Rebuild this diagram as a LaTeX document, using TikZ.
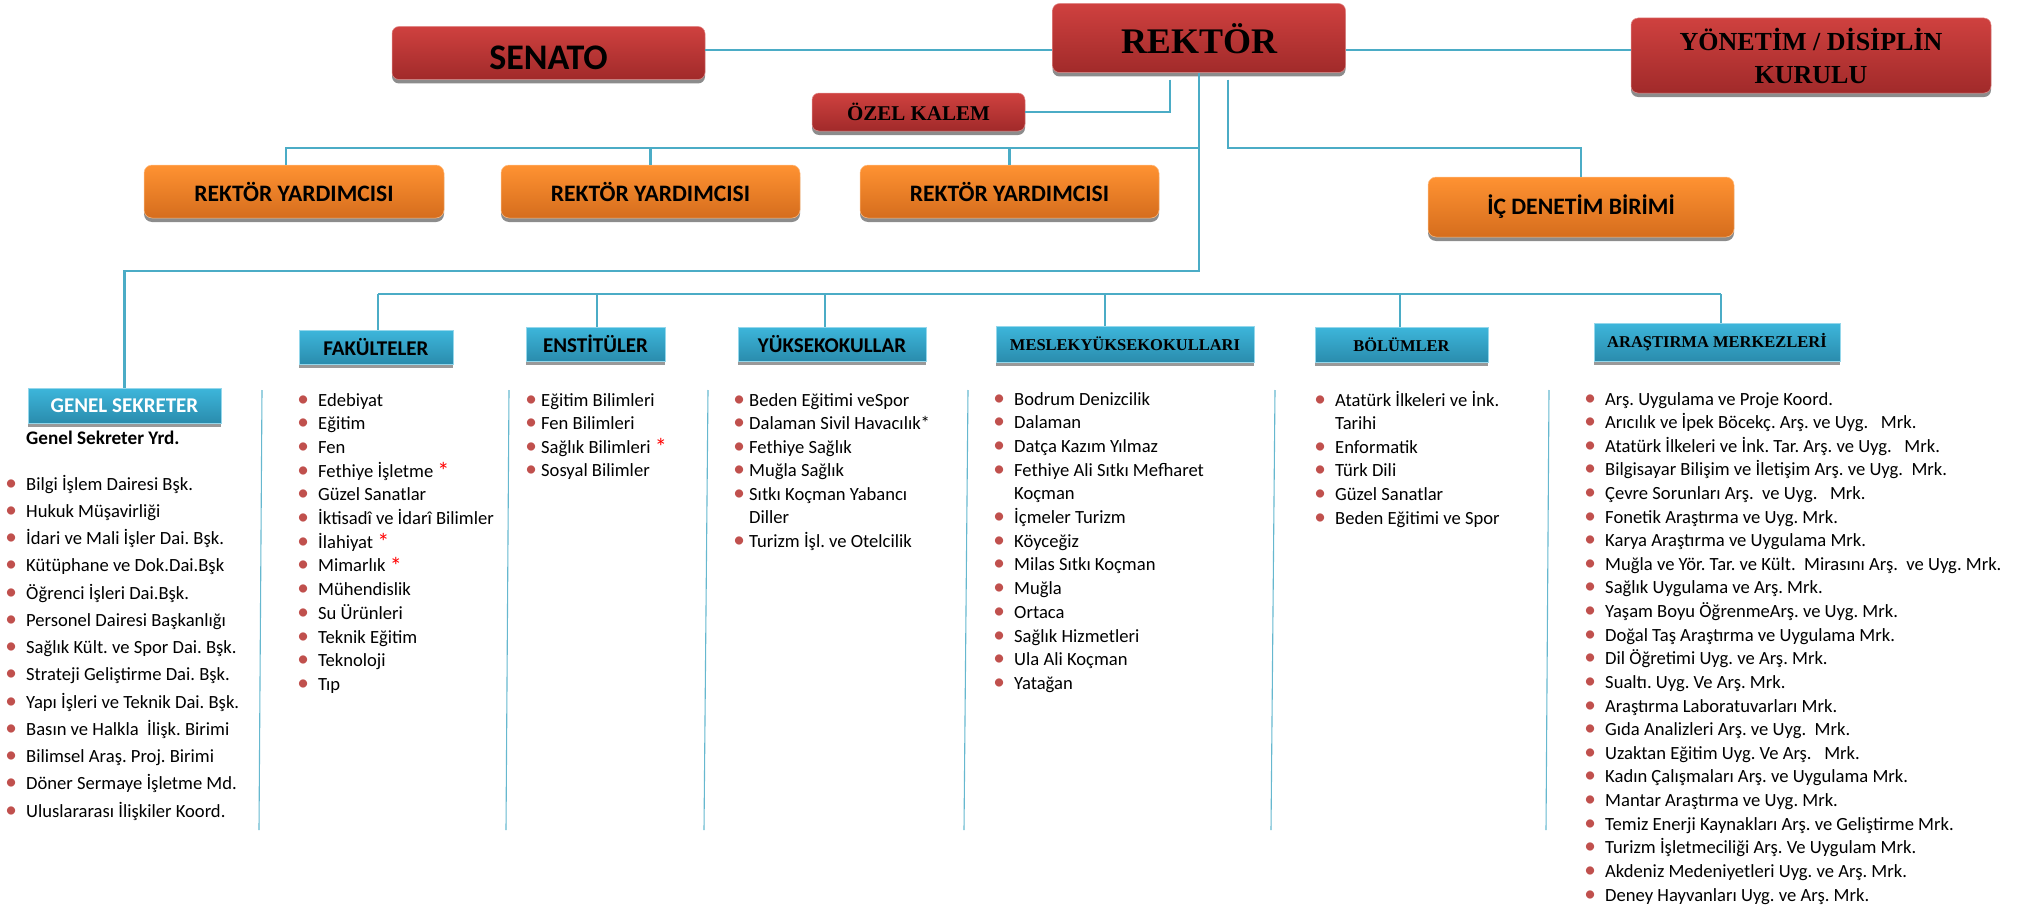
\documentclass[tikz,border=0pt]{standalone}
\usepackage{fontspec}
\setmainfont{Carlito}
\newfontfamily\timesfont{Liberation Serif}
\usetikzlibrary{shadows}
\frenchspacing

\definecolor{redtop}{HTML}{CF413F}
\definecolor{redbot}{HTML}{A12A2A}
\definecolor{orangetop}{HTML}{FF9232}
\definecolor{orangebot}{HTML}{D56D1D}
\definecolor{bluetop}{HTML}{3DB6DB}
\definecolor{bluebot}{HTML}{2A8CAD}
\definecolor{linkblue}{HTML}{4BACC6}
\definecolor{bulred}{HTML}{C0504D}

\newlength\bulsep
\setlength\bulsep{15pt}
\newcommand\bul{\kern-\bulsep\makebox[0pt]{\textcolor{bulred}{\scalebox{1.25}{\textbullet}}}\kern\bulsep}
\newcommand\rast{\ \textcolor{red}{\raisebox{-2.5pt}{\scalebox{1.3}{*}}}}
\newcommand\listfont{\fontsize{18.6}{22}\selectfont}

\tikzset{
  redbox/.style={rounded corners=7pt, top color=redtop, bottom color=redbot,
    draw=redtop!60!white, line width=0.5pt, inner sep=0pt, align=center,
    drop shadow={shadow xshift=0pt, shadow yshift=-4pt, fill=black!45, opacity=1}},
  orangebox/.style={rounded corners=8pt, top color=orangetop, bottom color=orangebot,
    draw=orangetop!60!white, line width=0.5pt, inner sep=0pt,
    font=\fontsize{23.6}{27}\selectfont\bfseries,
    drop shadow={shadow xshift=0pt, shadow yshift=-4pt, fill=black!45, opacity=1}},
  bluebox/.style={top color=bluetop, bottom color=bluebot, draw=bluetop!55!white,
    line width=0.8pt, inner sep=0pt, font=\fontsize{21}{25}\selectfont\bfseries,
    drop shadow={shadow xshift=0pt, shadow yshift=-4pt, fill=black!40, opacity=1}},
  timeshead/.style={font=\fontsize{16.5}{20}\selectfont\timesfont\bfseries},
  link/.style={draw=linkblue, line width=2.6pt},
  sepline/.style={draw=linkblue!85, line width=1.1pt},
  item/.style={anchor=base west, inner sep=0pt, font=\listfont},
  near/.style={execute at begin node={\setlength\bulsep{10pt}}}
}

\begin{document}
\begin{tikzpicture}[x=1pt,y=-1pt]
\useasboundingbox (0,0) rectangle (2035,907);

% top row
\node[redbox, minimum width=313pt, minimum height=53pt, text height=33pt, text depth=0pt,
  font=\fontsize{36}{40}\selectfont\bfseries] (senato) at (548.5,53) {SENATO};
\node[redbox, minimum width=293pt, minimum height=69pt, text height=32pt, text depth=0pt,
  font=\fontsize{36}{40}\selectfont\timesfont\bfseries] (rektor) at (1199,38) {REKTÖR};
\node[redbox, minimum width=360pt, minimum height=75pt,
  font=\fontsize{26}{33}\selectfont\timesfont\bfseries] (yonetim) at (1811,55.5) {YÖNETİM / DİSİPLİN\\KURULU};
\node[redbox, minimum width=213pt, minimum height=38pt,
  font=\fontsize{21}{24}\selectfont\timesfont\bfseries] (ozel) at (918.5,112) {ÖZEL KALEM};

\node[orangebox, minimum width=300pt, minimum height=53pt] (ry1) at (294,191.5) {REKTÖR YARDIMCISI};
\node[orangebox, minimum width=299pt, minimum height=53pt] (ry2) at (650.5,191.5) {REKTÖR YARDIMCISI};
\node[orangebox, minimum width=299pt, minimum height=53pt] (ry3) at (1009.5,191.5) {REKTÖR YARDIMCISI};
\node[orangebox, minimum width=306pt, minimum height=60pt] (ic) at (1581,207) {İÇ DENETİM BİRİMİ};

% bus heights
\coordinate (topline) at (0,50);
\coordinate (rybus) at (0,148);
\coordinate (gsbus) at (0,271);
\coordinate (unitbus) at (0,294);
\coordinate (ry1-top) at ([xshift=-8pt]ry1.north);

\draw[link] (senato.east |- topline) -- (rektor.west |- topline);
\draw[link] (rektor.east |- topline) -- (yonetim.west |- topline);
\draw[link] ([xshift=-29pt,yshift=-7pt]rektor.south) |- (ozel.east);
\draw[link] (ry1-top) |- (rektor.south |- rybus);
\draw[link] (ry2.north) -- (ry2.north |- rybus);
\draw[link] (ry3.north) -- (ry3.north |- rybus);
\draw[link] ([xshift=29pt,yshift=-7pt]rektor.south) |- (ic.north |- rybus) -- (ic.north);

% units
\node[bluebox, text=white, minimum width=193pt, minimum height=35pt] (gensek) at (124.5,405.5) {GENEL SEKRETER};
\node[bluebox, minimum width=154pt, minimum height=34pt] (fak) at (376,347) {FAKÜLTELER};
\node[bluebox, minimum width=139pt, minimum height=34pt] (ens) at (595.5,344) {ENSTİTÜLER};
\node[bluebox, minimum width=188pt, minimum height=34pt] (yuk) at (832,344) {YÜKSEKOKULLAR};
\node[bluebox, timeshead, minimum width=258pt, minimum height=36pt] (myo) at (1125,344) {MESLEKYÜKSEKOKULLARI};
\node[bluebox, timeshead, minimum width=173pt, minimum height=35pt] (bol) at (1401.5,344.5) {BÖLÜMLER};
\node[bluebox, timeshead, minimum width=246pt, minimum height=38pt] (ars) at (1717,342) {ARAŞTIRMA MERKEZLERİ};

\draw[link] (rektor.south) |- (gensek.north |- gsbus) -- (gensek.north);
\foreach \n/\s in {fak/2, ens/1.5, yuk/-7, myo/-20, bol/-1.5, ars/4}{
  \coordinate (\n-top) at ([xshift=\s pt]\n.north);
  \draw[link] (\n-top) -- (\n-top |- unitbus);
}
\draw[link] (fak-top |- unitbus) -- (ars-top |- unitbus);

% column rules
\foreach \a/\b in {262/259, 509/506, 708/704, 968/964, 1275/1271, 1549/1546}
  \draw[sepline] (\a,390) -- (\b,830);

% Genel Sekreter
\node[item, font=\fontsize{19.2}{22}\selectfont\bfseries] (gsyrd) at (26,444) {Genel Sekreter Yrd.};
\foreach \t [count=\i from 0] in {Bilgi İşlem Dairesi Bşk., Hukuk Müşavirliği,
  İdari ve Mali İşler Dai. Bşk., Kütüphane ve Dok.Dai.Bşk, Öğrenci İşleri Dai.Bşk.,
  Personel Dairesi Başkanlığı, Sağlık Kült. ve Spor Dai. Bşk., Strateji Geliştirme Dai. Bşk.,
  Yapı İşleri ve Teknik Dai. Bşk., Basın ve Halkla\ \ İlişk. Birimi, Bilimsel Araş. Proj. Birimi,
  Döner Sermaye İşletme Md., Uluslararası İlişkiler Koord.}
  \node[item] (gs\i) at (26,{490+27.25*\i}) {\bul\t};

% Fakulteler
\foreach \t [count=\i from 0] in {Edebiyat, Eğitim, Fen, Fethiye İşletme\rast, Güzel Sanatlar,
  İktisadî ve İdarî Bilimler, İlahiyat\rast, Mimarlık\rast, Mühendislik, Su Ürünleri,
  Teknik Eğitim, Teknoloji, Tıp}
  \node[item] (fak\i) at (318,{406+23.7*\i}) {\bul\t};

% Enstituler
\foreach \t [count=\i from 0] in {Eğitim Bilimleri, Fen Bilimleri, Sağlık Bilimleri\rast, Sosyal Bilimler}
  \node[item, near] (ens\i) at (541,{406+23.5*\i}) {\bul\t};

% Yuksekokullar
\foreach \t [count=\i from 0] in {\bul Beden Eğitimi veSpor, \bul Dalaman Sivil Havacılık*,
  \bul Fethiye Sağlık, \bul Muğla Sağlık, \bul Sıtkı Koçman Yabancı, Diller,
  \bul Turizm İşl. ve Otelcilik}
  \node[item, near] (yuk\i) at (749,{406+23.5*\i}) {\t};

% Meslek yuksekokullari
\foreach \t [count=\i from 0] in {\bul Bodrum Denizcilik, \bul Dalaman, \bul Datça Kazım Yılmaz,
  \bul Fethiye Ali Sıtkı Mefharet, Koçman, \bul İçmeler Turizm, \bul Köyceğiz,
  \bul Milas Sıtkı Koçman, \bul Muğla, \bul Ortaca, \bul Sağlık Hizmetleri,
  \bul Ula Ali Koçman, \bul Yatağan}
  \node[item] (myo\i) at (1014,{405+23.7*\i}) {\t};

% Bolumler
\foreach \t [count=\i from 0] in {\bul Atatürk İlkeleri ve İnk., Tarihi, \bul Enformatik,
  \bul Türk Dili, \bul Güzel Sanatlar, \bul Beden Eğitimi ve Spor}
  \node[item] (bol\i) at (1335,{406+23.6*\i}) {\t};

% Arastirma merkezleri
\foreach \t [count=\i from 0] in {Arş. Uygulama ve Proje Koord.,
  Arıcılık ve İpek Böcekç. Arş. ve Uyg.\ \ \ Mrk.,
  Atatürk İlkeleri ve İnk. Tar. Arş. ve Uyg.\ \ \ Mrk.,
  Bilgisayar Bilişim ve İletişim Arş. ve Uyg.\ \ Mrk.,
  Çevre Sorunları Arş.\ \ ve Uyg.\ \ \ Mrk.,
  Fonetik Araştırma ve Uyg. Mrk.,
  Karya Araştırma ve Uygulama Mrk.,
  Muğla ve Yör. Tar. ve Kült.\ \ Mirasını Arş.\ \ ve Uyg. Mrk.,
  Sağlık Uygulama ve Arş. Mrk.,
  Yaşam Boyu ÖğrenmeArş. ve Uyg. Mrk.,
  Doğal Taş Araştırma ve Uygulama Mrk.,
  Dil Öğretimi Uyg. ve Arş. Mrk.,
  Sualtı. Uyg. Ve Arş. Mrk.,
  Araştırma Laboratuvarları Mrk.,
  Gıda Analizleri Arş. ve Uyg.\ \ Mrk.,
  Uzaktan Eğitim Uyg. Ve Arş.\ \ \ Mrk.,
  Kadın Çalışmaları Arş. ve Uygulama Mrk.,
  Mantar Araştırma ve Uyg. Mrk.,
  Temiz Enerji Kaynakları Arş. ve Geliştirme Mrk.,
  Turizm İşletmeciliği Arş. Ve Uygulam Mrk.,
  Akdeniz Medeniyetleri Uyg. ve Arş. Mrk.,
  Deney Hayvanları Uyg. ve Arş. Mrk.}
  \node[item] (ars\i) at (1605,{405+23.62*\i}) {\bul\t};
\end{tikzpicture}
\end{document}
